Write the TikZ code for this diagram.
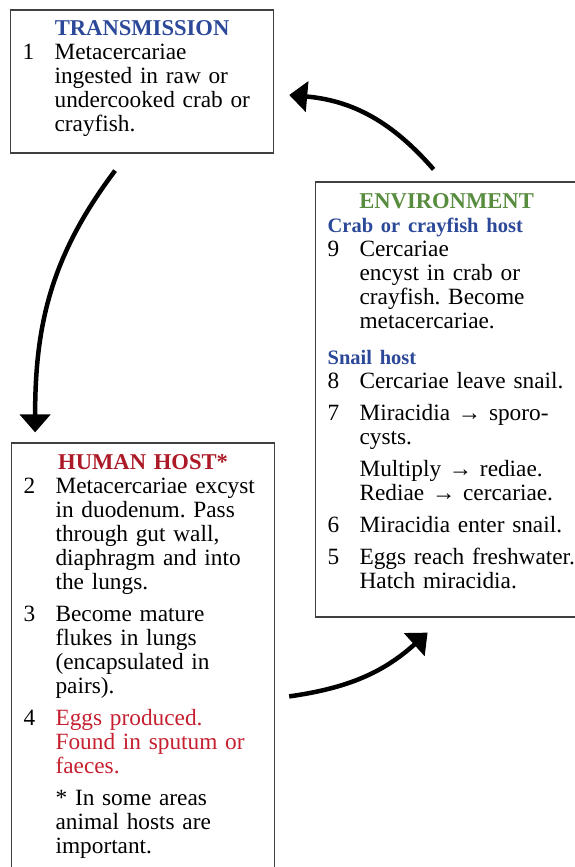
\documentclass[tikz,border=0pt]{standalone}
\usepackage{fontspec}
\setmainfont{Liberation Serif}
\usepackage{xcolor}
\usetikzlibrary{arrows.meta,positioning,calc}

\definecolor{headblue}{RGB}{44,72,152}
\definecolor{headgreen}{RGB}{88,140,62}
\definecolor{headred}{RGB}{172,26,40}
\definecolor{eggred}{RGB}{198,32,48}

\newcommand{\bodyfont}{\fontsize{23.3}{24}\selectfont\frenchspacing\hyphenpenalty=10000\relax}
\newcommand{\titlefont}{\fontsize{22.6}{24}\selectfont\bfseries}
\newcommand{\headfont}{\fontsize{20.5}{24}\selectfont\bfseries}
\newcommand{\lcitem}[2]{\par\hangindent=32pt\hangafter=1\noindent\makebox[32pt][l]{#1}#2\par}
\newcommand{\lcgap}{\vspace{8pt}}

\begin{document}
\begin{tikzpicture}[
  x=1pt, y=1pt,
  box/.style={draw=black!75, line width=1.2pt, anchor=base west, inner xsep=12pt, inner ysep=8pt,
    text height=18pt, font=\bodyfont},
  arrow/.style={-{Triangle[length=18pt,width=30pt]}, line width=4.5pt}
]
\useasboundingbox (0,0) rectangle (575,-867);

\node[box, text width=239pt, text depth=109pt] (trans) at (10,-36) {%
  {\titlefont\centering\textcolor{headblue}{TRANSMISSION}\par}\raggedright
  \lcitem{1}{Metacercariae\newline ingested in raw or\newline undercooked crab or\newline crayfish.}};

\node[box, text width=238pt, text depth=401pt] (env) at (315,-208) {%
  {\titlefont\centering\textcolor{headgreen}{ENVIRONMENT}\par}\raggedright
  {\headfont\textcolor{headblue}{Crab or crayfish host}\par}
  \lcitem{9}{Cercariae\newline encyst in crab or\newline crayfish. Become\newline metacercariae.}
  \vspace{12pt}
  {\headfont\textcolor{headblue}{Snail host}\par}
  \lcitem{8}{Cercariae leave snail.}\lcgap
  \lcitem{7}{Miracidia → sporo-\newline cysts.}\lcgap
  \lcitem{}{Multiply → rediae.\newline Rediae → cercariae.}\lcgap
  \lcitem{6}{Miracidia enter snail.}\lcgap
  \lcitem{5}{\mbox{Eggs reach freshwater.}\newline Hatch miracidia.}};

\node[box, text width=239pt, text depth=420pt] (hum) at (11,-469) {%
  {\titlefont\centering\textcolor{headred}{HUMAN HOST*}\par}\raggedright
  \lcitem{2}{Metacercariae excyst\newline in duodenum. Pass\newline through gut wall,\newline diaphragm and into\newline the lungs.}\lcgap
  \lcitem{3}{Become mature\newline flukes in lungs\newline (encapsulated in\newline pairs).}\lcgap
  \lcitem{4}{{\color{eggred}Eggs produced.\newline Found in sputum or\newline faeces.}}\lcgap
  \lcitem{}{* In some areas\newline animal hosts are\newline important.}};

\draw[arrow] ([xshift=-27pt,yshift=-17pt]trans.south) to[out=233, in=90] ([xshift=-108pt,yshift=10pt]hum.north);
\draw[arrow] ([shift={(14pt,-254pt)}]hum.north east) to[out=8, in=222] ([xshift=-19pt,yshift=-15pt]env.south);
\draw[arrow] ([xshift=-13pt,yshift=12pt]env.north) to[out=131, in=-5] ([xshift=15pt,yshift=-13.5pt]trans.east);
\end{tikzpicture}
\end{document}
